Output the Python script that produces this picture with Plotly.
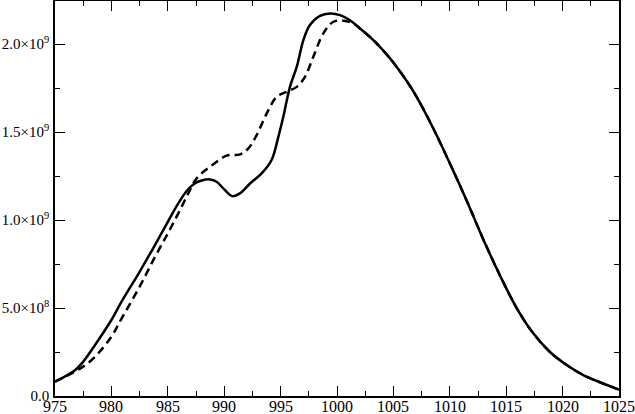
import plotly.graph_objects as go

# solid curve (x, y in units of 1e9)
solid_x = [975.0, 976.8, 977.5, 978.55, 980.0, 980.9, 982.5, 983.86, 985.0, 985.93,
           986.8, 987.5, 988.0, 988.74, 989.33, 989.92, 990.72, 991.4, 992.29, 993.32,
           994.2, 994.8, 995.24, 995.83, 996.43, 997.02, 997.6, 998.5, 999.38, 1000.27,
           1001.15, 1002.04, 1003.22, 1004.7, 1006.18, 1007.06, 1008.54, 1010.02,
           1011.5, 1012.97, 1014.45, 1015.93, 1017.4, 1018.88, 1020.36, 1021.83,
           1023.31, 1025.0]
solid_y = [0.081, 0.148, 0.195, 0.29, 0.432, 0.536, 0.706, 0.858, 0.99, 1.095,
           1.175, 1.212, 1.225, 1.231, 1.218, 1.18, 1.136, 1.152, 1.208, 1.265,
           1.341, 1.473, 1.587, 1.757, 1.871, 2.023, 2.108, 2.161, 2.174, 2.165,
           2.136, 2.089, 2.023, 1.919, 1.790, 1.700, 1.520, 1.320,
           1.110, 0.890, 0.685, 0.500, 0.356, 0.250, 0.176, 0.119,
           0.078, 0.036]

# dashed curve
dashed_x = [975.0, 976.8, 977.5, 978.55, 980.0, 980.9, 982.5, 983.86, 985.0, 985.93,
            986.8, 987.56, 988.74, 990.22, 991.4, 992.14, 992.88, 993.77, 994.65,
            995.54, 996.43, 997.16, 997.9, 998.79, 999.68, 1000.56, 1001.45,
            1002.04, 1003.22, 1004.7, 1006.18, 1007.06, 1008.54, 1010.02,
            1011.5, 1012.97, 1014.45, 1015.93, 1017.4, 1018.88, 1020.36, 1021.83,
            1023.31, 1025.0]
dashed_y = [0.081, 0.14, 0.167, 0.223, 0.337, 0.44, 0.621, 0.79, 0.924, 1.038,
            1.15, 1.237, 1.303, 1.366, 1.373, 1.407, 1.483, 1.606, 1.70,
            1.729, 1.757, 1.814, 1.928, 2.061, 2.127, 2.133, 2.117,
            2.089, 2.023, 1.919, 1.790, 1.700, 1.520, 1.320,
            1.110, 0.890, 0.685, 0.500, 0.356, 0.250, 0.176, 0.119,
            0.078, 0.036]

x_ticks = [975, 980, 985, 990, 995, 1000, 1005, 1010, 1015, 1020, 1025]
y_ticks = [0.0, 5.0e8, 1.0e9, 1.5e9, 2.0e9]
y_labels = ["0.0", "5.0×10<sup>8</sup>", "1.0×10<sup>9</sup>",
            "1.5×10<sup>9</sup>", "2.0×10<sup>9</sup>"]

FONT = dict(family="Liberation Serif", size=16, color="black")

fig = go.Figure()
fig.add_trace(go.Scatter(
    x=dashed_x, y=[v * 1e9 for v in dashed_y],
    mode="lines", line=dict(color="black", width=2.5, dash="8px,5px", shape="spline", smoothing=1.0),
    showlegend=False,
))
fig.add_trace(go.Scatter(
    x=solid_x, y=[v * 1e9 for v in solid_y],
    mode="lines", line=dict(color="black", width=2.5, shape="spline", smoothing=1.0),
    showlegend=False,
))

# x tick labels sit tight under the axis, so place them as annotations
for v in x_ticks:
    fig.add_annotation(x=v, y=0, xref="x", yref="paper", text=str(v),
                       showarrow=False, yanchor="top", yshift=-1,
                       font=FONT, borderpad=0)

axis_common = dict(
    showline=True, linecolor="black", linewidth=1.5, mirror="allticks",
    ticks="inside", ticklen=10, tickwidth=1, tickcolor="black",
    showgrid=False, zeroline=False, automargin=False,
)

fig.update_layout(
    width=635, height=414,
    margin=dict(l=55, r=16, t=1, b=18),
    paper_bgcolor="white", plot_bgcolor="white",
    xaxis=dict(range=[975, 1025], tickvals=x_ticks, showticklabels=False,
               minor=dict(ticks="inside", ticklen=5, dtick=2.5, tick0=975, tickcolor="black"),
               **axis_common),
    yaxis=dict(range=[0, 2.245e9], tickvals=y_ticks, ticktext=y_labels,
               ticklabelstandoff=1,
               tickfont=dict(family="Liberation Serif", size=15, color="black"),
               minor=dict(ticks="inside", ticklen=5, dtick=2.5e8, tick0=0, tickcolor="black"),
               **axis_common),
)

fig.write_html("out.html", config={"displayModeBar": False},
               post_script="document.body.style.margin='0';")
